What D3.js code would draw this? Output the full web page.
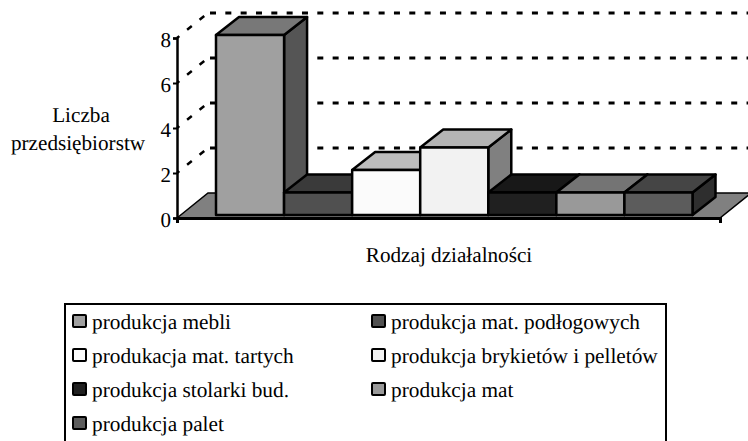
<!DOCTYPE html>
<html>
<head>
<meta charset="utf-8">
<script src="https://cdn.jsdelivr.net/npm/d3@7"></script>
<style>
html, body { margin: 0; padding: 0; background: #fff; overflow: hidden; }
text { font-family: "Liberation Serif", serif; fill: #000; text-rendering: geometricPrecision; }
</style>
</head>
<body>
<div id="chart"></div>
<script>
const categories = ["produkcja mebli", "produkcja mat. podłogowych", "produkacja mat. tartych", "produkcja brykietów i pelletów", "produkcja stolarki bud.", "produkcja mat", "produkcja palet"];
const values = [8, 1, 2, 3, 1, 1, 1];
const frontColors = ["#a0a0a0", "#505050", "#fbfbfb", "#f2f2f2", "#202020", "#999999", "#5c5c5c"];
const topColors = ["#787878", "#3a3a3a", "#bcbcbc", "#b4b4b4", "#181818", "#747474", "#454545"];
const sideColors = ["#555555", "#2e2e2e", "#7e7e7e", "#808080", "#141414", "#4e4e4e", "#2e2e2e"];
const yTicks = [0, 2, 4, 6, 8];

const width = 748, height = 441;
const svg = d3.select("#chart").append("svg")
    .attr("width", width)
    .attr("height", height)
    .style("display", "block");

const x = d3.scaleBand().domain(categories).range([216, 692.5]);
const y = d3.scaleLinear().domain([0, 8]).range([218, 38]);

// 3D offsets
const wall = { dx: 31, dy: 25 };
const bar = { dx: 23, dy: 18, lift: 3 };
const axisLeft = 177, axisRight = 720;

// Floor
svg.append("path")
    .attr("d", `M${axisLeft},${y(0)}L${axisLeft + wall.dx},${y(0) - wall.dy}L${axisRight + wall.dx},${y(0) - wall.dy}L${axisRight},${y(0)}Z`)
    .attr("fill", "#808080")
    .attr("stroke", "#000")
    .attr("stroke-width", 1.5);

// Gridlines
const grid = yTicks.filter(d => d > 0);
svg.append("g").selectAll("path.wall").data(grid).join("path")
    .attr("class", "wall")
    .attr("d", d => `M${axisLeft},${y(d)}L${axisLeft + wall.dx},${y(d) - wall.dy}`)
    .attr("fill", "none")
    .attr("stroke", "#000")
    .attr("stroke-width", 2.5)
    .attr("stroke-dasharray", "6 10")
    .attr("stroke-dashoffset", -13);

svg.append("g").selectAll("line").data(grid).join("line")
    .attr("x1", axisLeft + wall.dx + 2)
    .attr("x2", 748)
    .attr("y1", d => y(d) - wall.dy)
    .attr("y2", d => y(d) - wall.dy)
    .attr("stroke", "#000")
    .attr("stroke-width", 3)
    .attr("stroke-dasharray", "6 9.33");

// Bars
const bars = svg.append("g")
    .attr("stroke", "#000")
    .attr("stroke-width", 2.5)
    .attr("stroke-linejoin", "round")
    .selectAll("g").data(categories).join("g");

const barBase = y(0) - bar.lift;

bars.append("path")
    .attr("fill", (d, i) => sideColors[i])
    .attr("d", (d, i) => {
        const r = x(d) + x.bandwidth(), t = y(values[i]) - bar.lift;
        return `M${r},${t}L${r + bar.dx},${t - bar.dy}L${r + bar.dx},${barBase - bar.dy}L${r},${barBase}Z`;
    });

bars.append("path")
    .attr("fill", (d, i) => topColors[i])
    .attr("d", (d, i) => {
        const l = x(d), r = l + x.bandwidth(), t = y(values[i]) - bar.lift;
        return `M${l},${t}L${l + bar.dx},${t - bar.dy}L${r + bar.dx},${t - bar.dy}L${r},${t}Z`;
    });

bars.append("rect")
    .attr("x", d => x(d))
    .attr("width", x.bandwidth())
    .attr("y", (d, i) => y(values[i]) - bar.lift)
    .attr("height", (d, i) => barBase - y(values[i]) + bar.lift)
    .attr("fill", (d, i) => frontColors[i]);

// Axes
const yAxis = svg.append("g")
    .attr("transform", `translate(${axisLeft},0)`)
    .call(d3.axisLeft(y).tickValues(yTicks).tickSize(4).tickPadding(2).tickFormat(d3.format("d")));
yAxis.select(".domain").attr("stroke", "#000").attr("stroke-width", 2.5);
yAxis.selectAll(".tick line").attr("stroke", "#000").attr("stroke-width", 2);
yAxis.selectAll("text")
    .attr("dy", "0.42em")
    .style("font-family", '"Liberation Serif", serif')
    .style("font-size", "21px")
    .attr("fill", "#000");

const xAxisScale = d3.scaleLinear().domain([0, 1]).range([axisLeft, axisRight]);
const xAxis = svg.append("g")
    .attr("transform", `translate(0,${y(0)})`)
    .call(d3.axisBottom(xAxisScale).tickValues([1]).tickSize(5).tickFormat(""));
xAxis.select(".domain").attr("stroke", "#000").attr("stroke-width", 3);
xAxis.selectAll(".tick line").attr("stroke", "#000").attr("stroke-width", 2);

// Axis titles
svg.append("text").attr("x", 81).attr("y", 122).attr("text-anchor", "middle").attr("font-size", 21.2).text("Liczba");
svg.append("text").attr("x", 78).attr("y", 150).attr("text-anchor", "middle").attr("font-size", 21.2).text("przedsiębiorstw");
svg.append("text").attr("x", 449).attr("y", 262).attr("text-anchor", "middle").attr("font-size", 21.2).text("Rodzaj działalności");

// Legend
svg.append("rect")
    .attr("x", 65).attr("y", 304)
    .attr("width", 601).attr("height", 160)
    .attr("fill", "#fff")
    .attr("stroke", "#000")
    .attr("stroke-width", 2);

const legend = svg.append("g").selectAll("g").data(categories).join("g")
    .attr("transform", (d, i) => `translate(${i % 2 ? 372 : 73},${Math.floor(i / 2) * 34 + 315})`);

legend.append("rect")
    .attr("width", 13).attr("height", 12).attr("rx", 1)
    .attr("fill", (d, i) => frontColors[i])
    .attr("stroke", "#000")
    .attr("stroke-width", 2);

legend.append("text")
    .attr("x", 19)
    .attr("y", 14)
    .attr("font-size", 21.3)
    .text(d => d);
</script>
</body>
</html>
